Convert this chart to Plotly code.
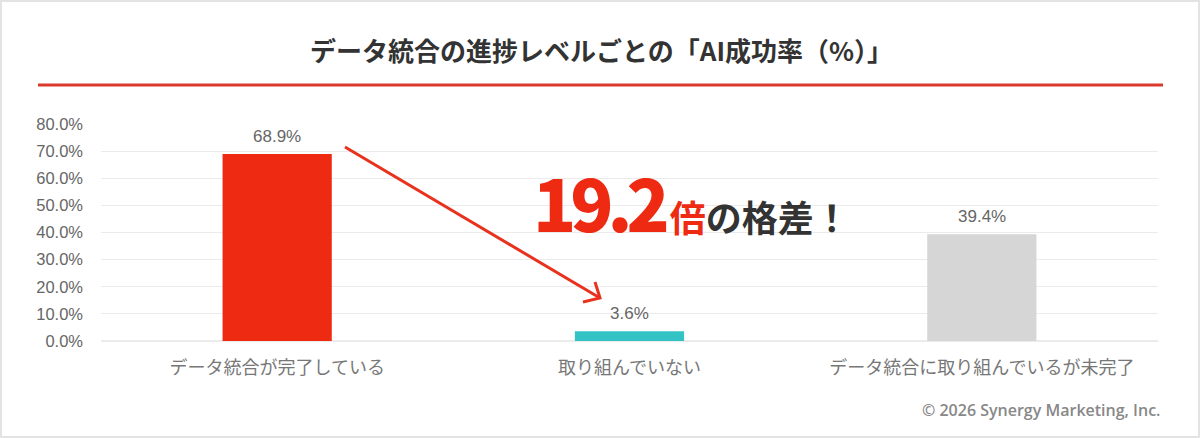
import plotly.graph_objects as go

categories = ["データ統合が完了している", "取り組んでいない", "データ統合に取り組んでいるが未完了"]
values = [68.9, 3.6, 39.4]
bar_colors = ["#ef2a12", "#33c3c4", "#d6d6d6"]
title_text = "データ統合の進捗レベルごとの「AI成功率（%）」"
ratio_text = "19.2"
copyright_text = "© 2026 Synergy Marketing, Inc."

W, H = 1200, 438
L, R, T, B = 101, 42, 124, 97
PW, PH = W - L - R, H - T - B

def px(x):
    return (x - L) / PW

def py(y):
    return (H - B - y) / PH

JP = "Noto Sans CJK JP"

fig = go.Figure()
fig.add_trace(go.Bar(
    x=categories, y=values, marker=dict(color=bar_colors, line=dict(width=0)),
    width=0.31, hoverinfo="skip",
))

annotations = []
for c, v in zip(categories, values):
    annotations.append(dict(
        x=c, y=v, xref="x", yref="y", text=f"{v:.1f}%", showarrow=False,
        yshift=18, font=dict(family="Liberation Sans, " + JP, size=17, color="#666666"),
    ))

big_head, big_tail = ratio_text[:-1], ratio_text[-1:]

annotations += [
    dict(x=px(601), y=py(49), xref="paper", yref="paper", text=title_text, showarrow=False,
         font=dict(family=JP, size=26, color="#333333", weight="bold"), xanchor="center", yanchor="middle"),
    dict(x=px(531), y=py(254), xref="paper", yref="paper", showarrow=False,
         xanchor="left", yanchor="bottom",
         text=(f"<span style='font-size:71px;color:#ee2a12;font-weight:900;letter-spacing:-6px'>{big_head}</span>"
               f"<span style='font-size:71px;color:#ee2a12;font-weight:900'>{big_tail}</span>"
               "<span style='font-size:36px;color:#ee2a12;font-weight:bold'>倍</span>"
               "<span style='font-size:36px;color:#333333;font-weight:bold'>の格差！</span>"),
         font=dict(family=JP, size=36, color="#333333")),
    dict(x=px(1162), y=py(410), xref="paper", yref="paper", text=copyright_text, showarrow=False,
         xanchor="right", yanchor="middle",
         font=dict(family="Open Sans, Noto Sans", size=16, color="#888888", weight=600)),
]

shapes = [
    dict(type="rect", xref="paper", yref="paper", x0=px(1), x1=px(1199), y0=py(437), y1=py(1),
         line=dict(color="#e3e3e3", width=2), layer="below"),
    dict(type="line", xref="paper", yref="paper", x0=px(38), x1=px(1163), y0=py(85), y1=py(85),
         line=dict(color="#d93a2b", width=3)),
    dict(type="line", xref="paper", yref="paper", x0=px(345), y0=py(147), x1=px(600), y1=py(298),
         line=dict(color="#e8321e", width=3)),
    dict(type="path", xref="paper", yref="paper",
         path=f"M {px(595)} {py(282)} L {px(600)} {py(298)} L {px(583)} {py(302)}",
         line=dict(color="#e8321e", width=3)),
]

fig.update_layout(
    width=W, height=H,
    margin=dict(l=L, r=R, t=T, b=B, autoexpand=False),
    paper_bgcolor="white", plot_bgcolor="white",
    showlegend=False,
    annotations=annotations, shapes=shapes,
    xaxis=dict(showgrid=False, showline=False, ticks="", ticklabelstandoff=14,
               tickfont=dict(family=JP, size=18, color="#777777")),
    yaxis=dict(range=[0, 80], dtick=10, tickformat=".1f", ticksuffix="%",
               gridcolor="#ebebeb", gridwidth=1, zeroline=True, zerolinecolor="#ebebeb",
               showline=False, ticks="", ticklabelstandoff=17,
               tickfont=dict(family="Liberation Sans, " + JP, size=16.5, color="#666666")),
)

fig.write_html("out.html", config={"displayModeBar": False},
               post_script="document.body.style.margin='0';document.body.style.overflow='hidden';")
